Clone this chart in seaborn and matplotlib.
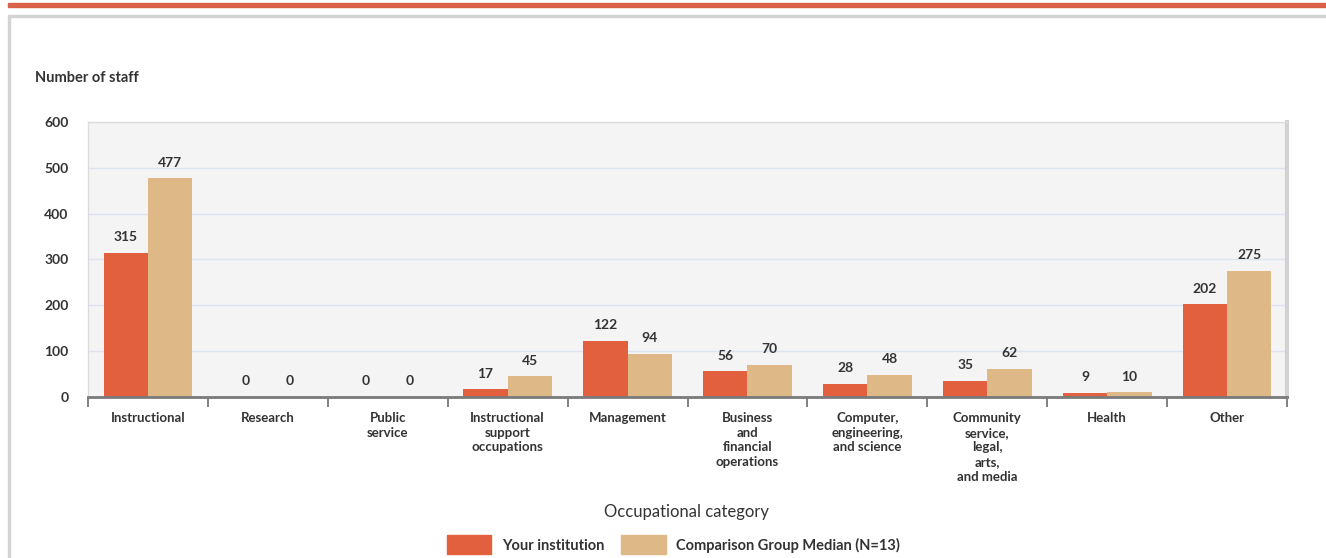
import numpy as np
import pandas as pd
import matplotlib
matplotlib.use("Agg")
import matplotlib.pyplot as plt
import matplotlib.patches as mpatches
from matplotlib.ticker import FixedLocator
import seaborn as sns

categories = ["Instructional", "Research", "Public\nservice",
              "Instructional\nsupport\noccupations", "Management",
              "Business\nand\nfinancial\noperations",
              "Computer,\nengineering,\nand science",
              "Community\nservice,\nlegal,\narts,\nand media",
              "Health", "Other"]
your_institution = [315, 0, 0, 17, 122, 56, 28, 35, 9, 202]
comparison_median = [477, 0, 0, 45, 94, 70, 48, 62, 10, 275]
series_names = ["Your institution", "Comparison Group Median (N=13)"]
y_ticks = [0, 100, 200, 300, 400, 500, 600]

sns.set_theme(style="white")
plt.rcParams["font.family"] = ["Lato", "DejaVu Sans"]

df = pd.DataFrame({
    "category": categories * 2,
    "value": your_institution + comparison_median,
    "series": [series_names[0]] * len(categories) + [series_names[1]] * len(categories),
})

red = "#e2603e"
tan = "#deb887"
text_col = "#333333"

fig = plt.figure(figsize=(13.26, 5.58), dpi=100)
ax = fig.add_axes([0.0664, 0.2885, 0.9042, 0.4929])

sns.barplot(data=df, x="category", y="value", hue="series", order=categories,
            hue_order=series_names, palette=[red, tan], width=0.74,
            saturation=1, ax=ax, legend=False, linewidth=0)

for cont in ax.containers:
    ax.bar_label(cont, padding=7, fontsize=10, fontweight="bold", color=text_col)

ax.set_facecolor("#f4f4f4")
ax.set_ylim(0, 600)
ax.set_xlim(-0.5, len(categories) - 0.5)
ax.set_yticks(y_ticks)
ax.yaxis.grid(True, color="#dde4ef", linewidth=1)
ax.set_axisbelow(True)
ax.tick_params(axis="y", length=0, pad=14, labelsize=10, labelcolor=text_col)
for lbl in ax.get_yticklabels():
    lbl.set_fontweight("bold")

ax.set_xticks(range(len(categories)))
ax.set_xticklabels(categories, fontsize=9.5, fontweight="bold", color=text_col,
                   linespacing=1.26, va="top")
ax.tick_params(axis="x", which="major", bottom=False, length=0, pad=11)
ax.xaxis.set_minor_locator(FixedLocator(np.arange(-0.5, len(categories), 1)))
ax.tick_params(axis="x", which="minor", bottom=True, length=7, width=1.3,
               color="#777777", direction="out")
ax.set_xlabel("")
ax.set_ylabel("")

for side in ["left", "top"]:
    ax.spines[side].set_color("#dcdcdc")
    ax.spines[side].set_linewidth(1)
ax.spines["right"].set_color("#d2d2d2")
ax.spines["right"].set_linewidth(3)
ax.spines["bottom"].set_color("#7a7a7a")
ax.spines["bottom"].set_linewidth(2)

fig.text(0.0265, 0.86, "Number of staff", fontsize=10.5, fontweight="bold",
         color=text_col, va="center")
fig.text(0.518, 0.082, "Occupational category", fontsize=12,
         color=text_col, ha="center", va="center")

handles = [mpatches.Patch(color=red, label=series_names[0]),
           mpatches.Patch(color=tan, label=series_names[1])]
leg = fig.legend(handles=handles, loc="center", bbox_to_anchor=(0.508, 0.024),
                 ncol=2, frameon=False, handlelength=2.9, handleheight=1.5,
                 columnspacing=1.1, handletextpad=0.7, borderaxespad=0)
for t in leg.get_texts():
    t.set_fontsize(10.5)
    t.set_fontweight("bold")
    t.set_color(text_col)

# page decorations
fig.patches.append(mpatches.Rectangle((0.006, 0.987), 0.994, 0.008,
                   transform=fig.transFigure, color="#d9614a", zorder=5))
fig.patches.append(mpatches.Rectangle((0.006, 0.970), 0.994, 0.004,
                   transform=fig.transFigure, color="#d3d3d3", zorder=5))
fig.patches.append(mpatches.Rectangle((0.006, 0.0), 0.0015, 0.972,
                   transform=fig.transFigure, color="#d3d3d3", zorder=5))

fig.savefig("out.png", dpi=100)
